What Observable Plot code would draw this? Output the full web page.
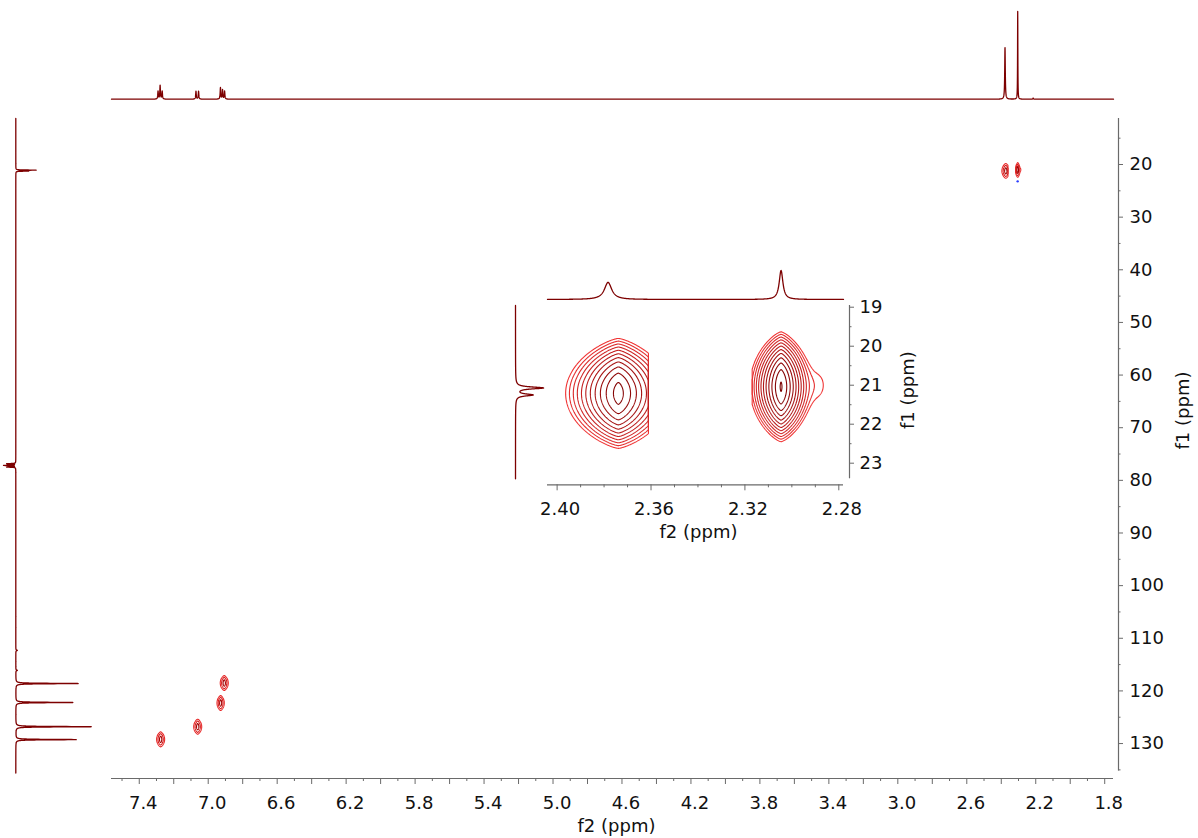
<!DOCTYPE html>
<html><head><meta charset="utf-8">
<script src="https://cdn.jsdelivr.net/npm/d3@7"></script>
<script src="https://cdn.jsdelivr.net/npm/@observablehq/plot@0.6"></script>
<style>
html,body{margin:0;padding:0;background:#fff;}
#chart{position:relative;width:1198px;height:838px;overflow:hidden;background:#fff;}
#chart svg{position:absolute;left:0;top:0;background:none !important;overflow:visible;max-width:none;}
</style></head><body><div id="chart"></div>
<script>
// ---------------- data ----------------
// 1H (f2) projection peaks: ppm, height (relative, tallest = 100), half width at half height (ppm)
const hPeakPpm    = [7.291, 7.279, 7.267, 7.071, 7.056, 6.929, 6.917, 6.905, 2.3783, 2.3046, 2.215];
const hPeakHeight = [9,     15.5,  9,     9,     9,     13,    10.5,  9,     59,     100,    1.2];
const hPeakHwhm   = [0.002, 0.002, 0.002, 0.002, 0.002, 0.002, 0.002, 0.002, 0.0019, 0.00095, 0.002];

// 13C (f1) projection peaks: ppm, height (relative), half width (ppm)
const cPeakPpm    = [21.07, 21.25, 76.84, 77.16, 77.48, 112.3, 116.1, 118.6, 122.2, 126.8, 129.25];
const cPeakHeight = [20,    12.3,  -9,    -12,   -9,    1.5,   1.5,   62.4,  57,    75.4,  60.4];
const cPeakHwhm   = [0.03,  0.03,  0.04,  0.04,  0.04,  0.08,  0.08,  0.05,  0.05,  0.05,  0.05];

// HSQC cross peaks
const hsqcF2     = [2.3739, 2.3046, 7.276, 7.061, 6.928, 6.907];
const hsqcF1     = [21.21,  21.04,  129.2, 126.8, 122.3, 118.5];
const hsqcAmp    = [1.0,    1.275,  1.0,   1.0,   1.0,   1.0];
const hsqcSigF2  = [0.0085, 0.0048, 0.0088,0.0088,0.0080,0.0088];
const hsqcSigF1  = [0.728,  0.705,  0.74,  0.74,  0.74,  0.74];
const hsqcWinF2a = [2.4100, 2.3169, 7.326, 7.111, 6.978, 6.957];   // processed f2 window (left edge)
const hsqcWinF2b = [2.3611, 2.2700, 7.226, 7.011, 6.878, 6.857];   // processed f2 window (right edge)
// weak shoulder on the second methyl cross peak
const shoulderOf = [1];
const shoulderF2 = [2.2880];
const shoulderF1 = [21.0];
const shoulderAmp = [0.022];
const shoulderSigF2 = [0.0036];
const shoulderSigF1 = [0.40];
// small negative (blue) contour
const negF2 = [2.305];
const negF1 = [23.2];

// contour levels
const insetLevels = [0.0235, 0.0337, 0.0483, 0.0693, 0.0993, 0.1423, 0.2039, 0.2923, 0.4190, 0.6005, 0.8607, 1.2337];
const mainLevels = [0.0235, 0.12, 0.5];

// ticks and labels
const mainXMajor = [7.4,7.2,7.0,6.8,6.6,6.4,6.2,6.0,5.8,5.6,5.4,5.2,5.0,4.8,4.6,4.4,4.2,4.0,3.8,3.6,3.4,3.2,3.0,2.8,2.6,2.4,2.2,2.0,1.8];
const mainXMinor = [7.5,7.3,7.1,6.9,6.7,6.5,6.3,6.1,5.9,5.7,5.5,5.3,5.1,4.9,4.7,4.5,4.3,4.1,3.9,3.7,3.5,3.3,3.1,2.9,2.7,2.5,2.3,2.1,1.9];
const mainXLabels = [7.4,7.0,6.6,6.2,5.8,5.4,5.0,4.6,4.2,3.8,3.4,3.0,2.6,2.2,1.8];
const mainYMajor = [20,30,40,50,60,70,80,90,100,110,120,130];
const mainYMinor = [15,25,35,45,55,65,75,85,95,105,115,125,135];
const insetXMajor = [2.40,2.36,2.32,2.28];
const insetXMinor = [2.39,2.38,2.37,2.35,2.34,2.33,2.31,2.30,2.29];
const insetYMajor = [19,20,21,22,23];
const insetYMinor = [19.5,20.5,21.5,22.5];
const axisTitleX = ["f2 (ppm)"];
const axisTitleY = ["f1 (ppm)"];

// ---------------- layout ----------------
const W = 1198, H = 838;
const FONT = "DejaVu Sans, Verdana, sans-serif";
const AX = "#6a6a6a", TXT = "#111", SPEC = "#7d0000";
const mainX = [7.561, 1.749], mainY = [11.26, 136.64], mainYAxisEnd = 135.2;
const insetX = [2.4041, 2.2780], insetY = [18.956, 23.554], insetYAxisEnd = 23.40;
const mainM = {marginLeft: 111, marginRight: W - 1113, marginTop: 118, marginBottom: H - 778};
const insetM = {marginLeft: 547, marginRight: W - 843, marginTop: 305, marginBottom: H - 484.3};

function lorentz(p, ppm, h, w) {
  let s = 0;
  for (let i = 0; i < ppm.length; i++) { const u = (p - ppm[i]) / w[i]; s += h[i] / (1 + u * u); }
  return s;
}
function spectrum(lo, hi, step, ppm, h, w) {
  const out = [];
  const n = Math.round((hi - lo) / step);
  for (let i = 0; i <= n; i++) { const p = lo + i * step; out.push({ppm: p, I: lorentz(p, ppm, h, w)}); }
  return out;
}
function crossPeak(i) {
  return (f2, f1) => {
    let v = hsqcAmp[i] * Math.exp(-Math.pow(Math.abs((f2 - hsqcF2[i]) / hsqcSigF2[i]), 1.36) - ((f1 - hsqcF1[i]) / hsqcSigF1[i]) ** 2);
    for (let j = 0; j < shoulderOf.length; j++) if (shoulderOf[j] === i) {
      const a = (f2 - shoulderF2[j]) / shoulderSigF2[j], b = (f1 - shoulderF1[j]) / shoulderSigF1[j];
      v += shoulderAmp[j] * Math.exp(-0.5 * a * a - 0.5 * b * b);
    }
    return v;
  };
}
function contourMarks(indices, levels, colors, pixelSize, halfF1) {
  const marks = [];
  for (const i of indices) {
    levels.forEach((t, k) => {
      marks.push(Plot.contour({
        value: crossPeak(i),
        x1: hsqcWinF2a[i], x2: hsqcWinF2b[i],
        y1: hsqcF1[i] - halfF1, y2: hsqcF1[i] + halfF1,
        thresholds: [t], pixelSize,
        fill: "none", stroke: colors[k], strokeWidth: 1.1
      }));
    });
  }
  return marks;
}
function overlay(opts) {
  const svg = Plot.plot({width: W, height: H, style: {fontFamily: FONT, background: "none", overflow: "visible"}, ...opts});
  svg.style.position = "absolute"; svg.style.left = "0"; svg.style.top = "0";
  document.getElementById("chart").appendChild(svg);
}
const txt = {fontSize: 18, fill: TXT, fontFamily: FONT};

// ---------------- main 2D plot ----------------
const mainColors = ["#e82828", "#d81c1c", "#a00000"];
overlay({
  ...mainM,
  x: {domain: mainX, axis: null},
  y: {domain: mainY, reverse: true, axis: null},
  marks: [
    Plot.ruleY([mainY[1]], {stroke: AX, strokeWidth: 1.2}),
    Plot.ruleX(mainXMajor, {x: d => d, y1: mainY[1], y2: mainY[1], insetBottom: -6, stroke: AX}),
    Plot.ruleX(mainXMinor, {x: d => d, y1: mainY[1], y2: mainY[1], insetBottom: -3, stroke: AX}),
    Plot.text(mainXLabels, {x: d => d, frameAnchor: "bottom", lineAnchor: "middle", dy: 25, dx: 4, text: d => d.toFixed(1), ...txt}),
    Plot.text(axisTitleX, {frameAnchor: "bottom", lineAnchor: "middle", textAnchor: "middle", dy: 48, dx: 4, text: d => d, ...txt}),
    Plot.ruleX([mainX[1]], {x: d => d, y1: mainY[0], y2: mainYAxisEnd, dx: 5, stroke: AX, strokeWidth: 1.2}),
    Plot.ruleY(mainYMajor, {y: d => d, x1: mainX[1], x2: mainX[1], dx: 5, insetRight: -5, stroke: AX}),
    Plot.ruleY(mainYMinor, {y: d => d, x1: mainX[1], x2: mainX[1], dx: 5, insetRight: -2.5, stroke: AX}),
    Plot.text(mainYMajor, {y: d => d, frameAnchor: "right", lineAnchor: "middle", dx: 16, textAnchor: "start", text: d => String(d), ...txt}),
    Plot.text(axisTitleY, {frameAnchor: "right", textAnchor: "middle", lineAnchor: "middle", dx: 70, dy: -38, rotate: -90, text: d => d, ...txt}),
    ...contourMarks([0, 1, 2, 3, 4, 5], mainLevels, mainColors, 0.25, 2.3),
    Plot.dot(negF2, {x: d => d, y: (d, i) => negF1[i], r: 1.2, fill: "#2a3cff", stroke: "none"})
  ]
});

// top 1H projection
overlay({
  marginLeft: mainM.marginLeft, marginRight: mainM.marginRight, marginTop: 11, marginBottom: H - 98.7,
  x: {domain: mainX, axis: null},
  y: {domain: [0, 100], axis: null},
  marks: [Plot.line(spectrum(mainX[1], mainX[0], 0.0004, hPeakPpm, hPeakHeight, hPeakHwhm), {x: "ppm", y: "I", stroke: SPEC, strokeWidth: 1.3})]
});

// left 13C projection
overlay({
  marginLeft: 15.3, marginRight: W - 115.3, marginTop: mainM.marginTop, marginBottom: mainM.marginBottom,
  x: {domain: [0, 100], axis: null},
  y: {domain: mainY, reverse: true, axis: null},
  marks: [Plot.line(spectrum(mainY[0], mainYAxisEnd + 0.4, 0.005, cPeakPpm, cPeakHeight, cPeakHwhm), {x: "I", y: "ppm", stroke: SPEC, strokeWidth: 1.3})]
});

// ---------------- inset ----------------
const insetColors = insetLevels.map((_, k) => d3.interpolateRgb("#f03434", "#7a0000")(k / (insetLevels.length - 1)));
overlay({
  ...insetM,
  x: {domain: insetX, axis: null},
  y: {domain: insetY, reverse: true, axis: null},
  marks: [
    Plot.ruleY([insetY[1]], {stroke: AX, strokeWidth: 1.2}),
    Plot.ruleX(insetXMajor, {x: d => d, y1: insetY[1], y2: insetY[1], insetBottom: -6, stroke: AX}),
    Plot.ruleX(insetXMinor, {x: d => d, y1: insetY[1], y2: insetY[1], insetBottom: -3, stroke: AX}),
    Plot.text(insetXMajor, {x: d => d, frameAnchor: "bottom", lineAnchor: "middle", dy: 24, dx: 3, text: d => d.toFixed(2), ...txt}),
    Plot.text(axisTitleX, {frameAnchor: "bottom", lineAnchor: "middle", textAnchor: "middle", dy: 47, dx: 3, text: d => d, ...txt}),
    Plot.ruleX([insetX[1]], {x: d => d, y1: insetY[0], y2: insetYAxisEnd, dx: 6, stroke: AX, strokeWidth: 1.2}),
    Plot.ruleY(insetYMajor, {y: d => d, x1: insetX[1], x2: insetX[1], dx: 6, insetRight: -5, stroke: AX}),
    Plot.ruleY(insetYMinor, {y: d => d, x1: insetX[1], x2: insetX[1], dx: 6, insetRight: -2.5, stroke: AX}),
    Plot.text(insetYMajor, {y: d => d, frameAnchor: "right", lineAnchor: "middle", dx: 16, textAnchor: "start", text: d => String(d), ...txt}),
    Plot.text(axisTitleY, {frameAnchor: "right", textAnchor: "middle", lineAnchor: "middle", dx: 65, dy: -5, rotate: -90, text: d => d, ...txt}),
    ...contourMarks([0, 1], insetLevels, insetColors, 0.5, 2.3)
  ]
});
// inset top projection
overlay({
  marginLeft: insetM.marginLeft, marginRight: insetM.marginRight, marginTop: 270, marginBottom: H - 299,
  x: {domain: insetX, axis: null},
  y: {domain: [0, 100], axis: null},
  marks: [Plot.line(spectrum(insetX[1], insetX[0], 0.0001, hPeakPpm, hPeakHeight, hPeakHwhm), {x: "ppm", y: "I", stroke: SPEC, strokeWidth: 1.3})]
});
// inset left projection
overlay({
  marginLeft: 515, marginRight: W - 542.7, marginTop: insetM.marginTop, marginBottom: insetM.marginBottom,
  x: {domain: [0, 20], axis: null},
  y: {domain: insetY, reverse: true, axis: null},
  marks: [Plot.line(spectrum(insetY[0], insetYAxisEnd, 0.002, cPeakPpm, cPeakHeight, cPeakHwhm), {x: "I", y: "ppm", stroke: SPEC, strokeWidth: 1.3})]
});
</script></body></html>
